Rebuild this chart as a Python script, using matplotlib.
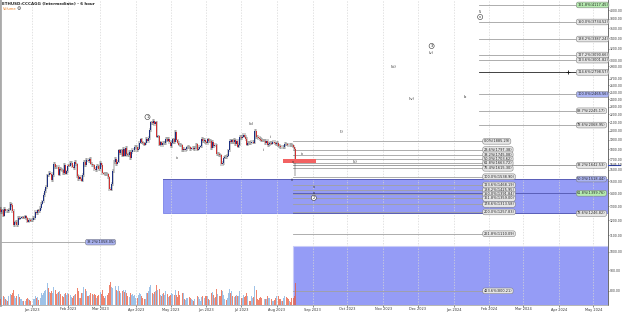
import datetime as dt
import matplotlib
matplotlib.use('Agg')
import matplotlib.pyplot as plt
import matplotlib.dates as mdates
from matplotlib.patches import Rectangle
from matplotlib.ticker import FixedLocator, NullLocator, FuncFormatter

# ---- price data (daily closes) ----
start_day = dt.date(2022, 12, 4)
first_open = 1275
close_dec22 = [1280, 1259, 1270, 1232, 1281, 1264, 1265, 1263, 1275, 1320, 1309, 1266, 1167, 1185,
               1186, 1167, 1216, 1211, 1218, 1219, 1220, 1218, 1227, 1212, 1190, 1201, 1199, 1196]
close_jan23 = [1200, 1214, 1214, 1256, 1251, 1269, 1264, 1288, 1320, 1336, 1386, 1419, 1451, 1551, 1550, 1576,
               1567, 1512, 1552, 1660, 1628, 1627, 1628, 1557, 1612, 1603, 1597, 1572, 1646, 1567, 1586]
close_feb23 = [1641, 1640, 1664, 1667, 1630, 1617, 1673, 1651, 1547, 1515, 1539, 1515, 1506, 1556,
               1674, 1642, 1694, 1693, 1681, 1702, 1660, 1642, 1643, 1609, 1595, 1641, 1634, 1605]
close_mar23 = [1663, 1647, 1569, 1566, 1564, 1566, 1560, 1533, 1436, 1430, 1476, 1592, 1674, 1703, 1653, 1677,
               1791, 1762, 1789, 1737, 1807, 1737, 1815, 1750, 1743, 1775, 1711, 1773, 1793, 1794, 1823]
close_apr23 = [1824, 1793, 1809, 1870, 1907, 1873, 1864, 1851, 1862, 1912, 1891, 1920, 2012, 2100, 2092,
               2123, 2082, 2100, 1937, 1938, 1850, 1874, 1841, 1866, 1864, 1869, 1908, 1893, 1913, 1878]
close_may23 = [1832, 1870, 1907, 1877, 1993, 1895, 1872, 1850, 1846, 1842, 1796, 1805, 1796, 1801, 1820, 1823,
               1822, 1801, 1811, 1819, 1803, 1818, 1852, 1798, 1807, 1829, 1830, 1909, 1891, 1901, 1873]
close_jun23 = [1863, 1907, 1890, 1892, 1812, 1880, 1832, 1847, 1841, 1751, 1752, 1741, 1738, 1651, 1665,
               1718, 1728, 1721, 1737, 1791, 1889, 1875, 1894, 1875, 1902, 1859, 1887, 1829, 1851, 1934]
close_jul23 = [1924, 1937, 1955, 1937, 1910, 1850, 1869, 1865, 1862, 1878, 1878, 1871, 2000, 1935, 1931, 1922,
               1909, 1898, 1893, 1892, 1892, 1866, 1890, 1848, 1859, 1871, 1860, 1873, 1882, 1864, 1857]
close_aug23 = [1872, 1838, 1835, 1826, 1828, 1824, 1827, 1855, 1853, 1850, 1848, 1848, 1844, 1842, 1828, 1807, 1685]
crash_low = 1545

vol_dec22 = [22, 18, 25, 30, 27, 20, 15, 14, 28, 35, 32, 40, 48, 30, 22, 28, 35, 26, 20, 18, 14, 12, 13, 20, 24, 18, 15, 14]
vol_jan23 = [12, 18, 20, 30, 22, 26, 16, 24, 38, 34, 40, 45, 50, 70, 55, 42, 38, 45, 40, 60, 48, 35, 38, 42, 45, 36, 30, 26, 35, 40, 32]
vol_feb23 = [40, 36, 34, 25, 22, 30, 34, 36, 55, 45, 24, 22, 38, 40, 58, 52, 45, 30, 28, 34, 38, 36, 34, 36, 32, 22, 30, 34]
vol_mar23 = [42, 36, 48, 28, 22, 30, 34, 40, 65, 75, 60, 55, 80, 62, 48, 44, 62, 46, 40, 45, 50, 42, 48, 38, 28, 26, 38, 32, 36, 30, 32]
vol_apr23 = [22, 24, 34, 40, 36, 28, 24, 18, 20, 40, 38, 44, 60, 64, 40, 36, 42, 44, 66, 48, 52, 34, 28, 36, 40, 32, 44, 36, 26, 28]
vol_may23 = [34, 38, 36, 32, 48, 34, 26, 46, 34, 36, 40, 38, 18, 16, 24, 22, 26, 24, 20, 16, 14, 20, 24, 28, 26, 20, 14, 26, 30, 24, 28]
vol_jun23 = [28, 30, 18, 16, 40, 42, 34, 24, 26, 52, 36, 30, 28, 50, 44, 34, 20, 16, 22, 40, 52, 38, 44, 30, 26, 30, 32, 28, 30, 46]
vol_jul23 = [24, 22, 32, 26, 30, 38, 30, 14, 14, 28, 22, 26, 62, 48, 20, 16, 24, 26, 24, 22, 20, 18, 20, 30, 22, 24, 20, 14, 12, 16, 22]
vol_aug23 = [28, 30, 20, 20, 12, 12, 24, 30, 26, 24, 20, 12, 10, 22, 24, 30, 70]

# ---- fib levels ----
mid_levels = ['0.0%', '23.6%', '38.2%', '50.0%', '61.8%', '76.4%', '100.0%', '123.6%', '138.2%',
              '150.0%', '161.8%', '178.6%', '200.0%', '261.8%', '423.6%']
mid_prices = [1885.29, 1797.38, 1745.08, 1703.62, 1663.72, 1615.30, 1538.90, 1468.19, 1425.95,
              1391.84, 1359.00, 1313.58, 1257.83, 1110.09, 800.21]

upper_levels = ['161.8%', '150.0%', '138.2%', '127.2%', '123.6%', '114.6%', '100.0%', '88.7%', '78.6%']
upper_prices = [4117.45, 3734.52, 3387.24, 3090.66, 3001.82, 2798.57, 2465.56, 2245.17, 2068.95]
upper_fill = ['#b6ecb0', '#e6e6e6', '#e6e6e6', '#e6e6e6', '#e6e6e6', '#e6e6e6', '#aab3f2', '#e6e6e6', '#e6e6e6']

lower_levels = ['38.2%', '50.0%', '61.8%', '78.6%']
lower_prices = [1642.53, 1518.44, 1399.76, 1246.82]
lower_fill = ['#e6e6e6', '#aab3f2', '#b6ecb0', '#e6e6e6']

left_level, left_price = '38.2%', 1058.05
last_price = 1645.50

wave_text = ['1', 'iv', '(b)', 'i', 'ii', 'iv', 'v', 'iii', 'v', 'iv', '2', '(i)', '(ii)',
             '(iii)', '(iv)', '3', '(v)', 'b', '5', 'v']
wave_date = ['2023-04-11', '2023-05-07', '2023-07-10', '2023-07-20', '2023-07-27', '2023-08-23',
             '2023-08-15', '2023-08-14', '2023-09-02', '2023-09-02', '2023-09-02', '2023-09-26',
             '2023-10-08', '2023-11-10', '2023-11-26', '2023-12-13', '2023-12-13', '2024-01-11',
             '2024-01-24', '2024-01-24']
wave_price = [2167, 1714, 2082, 1794, 1933, 1753, 1670, 1511, 1452, 1405, 1363, 1989, 1670,
              2886, 2403, 3255, 3120, 2430, 3954, 3843]
wave_circle = [True, False, False, False, False, False, False, False, False, False, True, False, False,
               False, False, True, False, False, False, True]

closes = (close_dec22 + close_jan23 + close_feb23 + close_mar23 + close_apr23 + close_may23
          + close_jun23 + close_jul23 + close_aug23)
volumes = (vol_dec22 + vol_jan23 + vol_feb23 + vol_mar23 + vol_apr23 + vol_may23
           + vol_jun23 + vol_jul23 + vol_aug23)
days = [start_day + dt.timedelta(days=i) for i in range(len(closes))]
xs = mdates.date2num(days)
opens = [first_open] + closes[:-1]
highs = [max(o, c) * 1.01 for o, c in zip(opens, closes)]
lows = [min(o, c) * 0.99 for o, c in zip(opens, closes)]
lows[-1] = crash_low


def d(s):
    return mdates.date2num(dt.datetime.strptime(s, '%Y-%m-%d'))


jan1 = d('2023-01-01')
x_left, x_right = jan1 - 27.7, jan1 + 498.7

fig = plt.figure(figsize=(6.24, 3.12), dpi=100)
ax = fig.add_axes([0, 7 / 312, 608 / 624, 305 / 312])
ax.set_yscale('log')
ax.set_ylim(738, 4236)
ax.set_xlim(x_left, x_right)

# zones
blue = '#959cf6'
ax.add_patch(Rectangle((d('2023-04-24'), 1246.82), x_right - d('2023-04-24'), 1518.44 - 1246.82,
                       fc=blue, ec='#7b83e8', lw=0.6, zorder=1))
ax.add_patch(Rectangle((d('2023-08-15'), 700), x_right - d('2023-08-15'), 1035 - 700,
                       fc=blue, ec='#c9ccf8', lw=0.8, zorder=1))
ax.add_patch(Rectangle((d('2023-08-06'), 1663.72), d('2023-09-04') - d('2023-08-06'), 1703.62 - 1663.72,
                       fc='#f26262', ec='none', zorder=4))

lab = dict(fontsize=2.5, va='center', ha='left', color='#222', zorder=6)


def tag(xpos, y, text, fc='#e6e6e6'):
    ax.text(xpos, y, text, bbox=dict(boxstyle='round,pad=0.25,rounding_size=0.6', fc=fc, ec='#777', lw=0.35), **lab)


# middle fib set
for name, p in zip(mid_levels, mid_prices):
    ax.plot([d('2023-08-15'), d('2024-01-26')], [p, p], color='#a0a0a0', lw=0.6, zorder=2)
    tag(d('2024-01-27'), p, f'{name}({p:.2f})')

# upper right set
for name, p, fc in zip(upper_levels, upper_prices, upper_fill):
    col = '#222' if name == '114.6%' else '#a0a0a0'
    ax.plot([d('2024-01-23'), d('2024-04-16')], [p, p], color=col, lw=0.6, zorder=2)
    tag(d('2024-04-17'), p, f'{name}({p:.2f})', fc)
ax.plot([d('2024-04-09')], [2798.57], marker='+', ms=2.5, mew=0.6, color='#111', zorder=5)

# lower right set
for name, p, fc in zip(lower_levels, lower_prices, lower_fill):
    col = '#a0a0a0' if name == '38.2%' else '#5a5fb8'
    x0 = d('2023-08-15') if name != '50.0%' else d('2023-04-24')
    ax.plot([x0, d('2024-04-16')], [p, p], color=col, lw=0.7, zorder=2)
    tag(d('2024-04-17'), p, f'{name}({p:.2f})', fc)

# left level
ax.plot([x_left, d('2023-02-16')], [left_price, left_price], color='#a0a0a0', lw=0.6, zorder=2)
tag(d('2023-02-17'), left_price, f'{left_level}({left_price:.2f})', '#aab3f2')

# candles
up_c, dn_c = '#1c2f80', '#d03030'
cols = [up_c if c >= o else dn_c for o, c in zip(opens, closes)]
ax.vlines(xs, lows, highs, colors='#333', lw=0.35, zorder=3)
ax.bar(xs, [max(abs(c - o), 1.5) for o, c in zip(opens, closes)], bottom=[min(o, c) for o, c in zip(opens, closes)],
       width=0.85, color=cols, lw=0, zorder=3)

# wave labels
for t, wd, wp, circ in zip(wave_text, wave_date, wave_price, wave_circle):
    bb = dict(boxstyle='circle,pad=0.15', fc='white', ec='#333', lw=0.4) if circ else None
    ax.text(d(wd), wp, t, fontsize=2.6, ha='center', va='center', color='#222', bbox=bb, zorder=7)

# last price on axis
ax.plot([1.0, 1.02], [last_price, last_price], transform=ax.get_yaxis_transform(),
        color='#3048c8', lw=0.8, clip_on=False, zorder=8)
ax.text(1.003, last_price, f'{last_price:.2f}', transform=ax.get_yaxis_transform(), fontsize=2.2,
        va='center', ha='left', color='#222', zorder=8)

# axes styling
months = [dt.date(2023 + (m - 1) // 12, (m - 1) % 12 + 1, 1) for m in range(1, 18)]
ax.set_xticks(mdates.date2num(months))
ax.set_xticklabels([f'{m:%b %Y}' for m in months])
ax.grid(axis='x', linestyle=(0, (2, 2)), color='#d6d6d6', lw=0.5, zorder=0)
price_ticks = [800, 900, 1000, 1100, 1200, 1300, 1400, 1500, 1600, 1700, 1800, 1900, 2000, 2100, 2200,
               2300, 2400, 2500, 2600, 2700, 2900, 3000, 3200, 3400, 3600, 3800, 4000]
ax.yaxis.set_major_locator(FixedLocator(price_ticks))
ax.yaxis.set_minor_locator(NullLocator())
ax.yaxis.set_major_formatter(FuncFormatter(lambda v, _: f'{v:.2f}'))
ax.yaxis.tick_right()
ax.tick_params(axis='x', labelsize=2.5, length=1.2, width=0.4, pad=0.6, colors='#333')
ax.tick_params(axis='y', labelsize=2.2, length=1.0, width=0.4, pad=0.4, colors='#333')
ax.spines['top'].set_visible(False)
ax.spines['left'].set_color('#aaaaaa')
ax.spines['left'].set_linewidth(2)
ax.spines['right'].set_color('#555')
ax.spines['right'].set_linewidth(0.6)
ax.spines['bottom'].set_color('#999')
ax.spines['bottom'].set_linewidth(0.5)

# volume overlay
axv = fig.add_axes([0, 7 / 312, 608 / 624, 40 / 312], sharex=ax)
axv.set_ylim(0, 130)
axv.axis('off')
axv.patch.set_alpha(0)
vcols = ['#7eaee0' if c >= o else '#ea5a3c' for o, c in zip(opens, closes)]
axv.bar(xs, volumes, width=0.85, color=vcols, alpha=0.75, lw=0)

fig.text(2 / 624, 1 - 4 / 312, 'ETHUSD:CCCAGG (Intermediate) - 6 hour', fontsize=2.9, fontweight='bold',
         va='center', color='#222')
fig.text(3 / 624, 1 - 8.5 / 312, 'Volume', fontsize=2.6, color='#f08020', va='center')
fig.text(16.5 / 624, 1 - 8.5 / 312, '\u2699', fontsize=3.4, color='#333', va='center')

fig.savefig('out.png', dpi=100)
